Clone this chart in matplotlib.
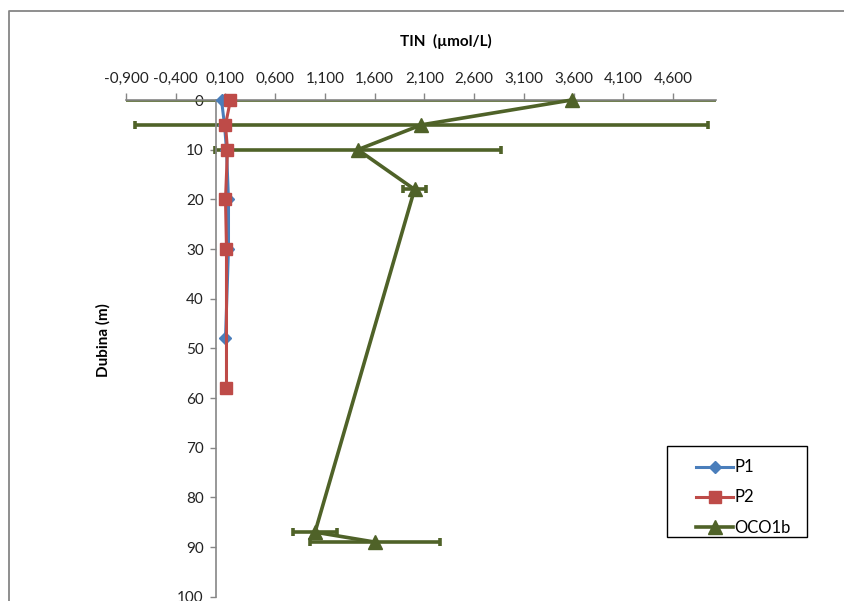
import matplotlib
matplotlib.use("Agg")
import matplotlib.pyplot as plt
from matplotlib.lines import Line2D
from matplotlib.patches import Rectangle
from matplotlib.ticker import FixedLocator, FuncFormatter
import numpy as np

plt.rcParams['font.family'] = ['Lato', 'DejaVu Sans']

# depth (m) and TIN (umol/L) per station
p1_depth = [0, 5, 10, 20, 30, 48]
p1_tin = [0.06, 0.09, 0.11, 0.13, 0.13, 0.10]

p2_depth = [0, 5, 10, 20, 30, 58]
p2_tin = [0.15, 0.10, 0.12, 0.10, 0.11, 0.11]

oco_depth = [0, 5, 10, 18, 87, 89]
oco_tin = [3.58, 2.07, 1.43, 2.00, 1.00, 1.60]
oco_err = [4.80, 2.88, 1.44, 0.115, 0.22, 0.655]

xticks = [-0.9, -0.4, 0.1, 0.6, 1.1, 1.6, 2.1, 2.6, 3.1, 3.6, 4.1, 4.6]
yticks = list(range(0, 101, 10))

blue = '#4A7EBB'
red = '#BE4B48'
green = '#4F6228'
grey = '#868686'

W, H = 844, 601
fig = plt.figure(figsize=(W / 100, H / 100), dpi=100)
ax = fig.add_axes([126 / W, 4.3 / H, (716 - 126) / W, (601 - 100 - 4.3) / H])

# error bars first, clipped to the plot area
ax.errorbar(oco_tin, oco_depth, xerr=oco_err, fmt='none', ecolor=green,
            elinewidth=2.6, capsize=3.2, capthick=2.6, zorder=2)

ax.plot(p1_tin, p1_depth, color=blue, lw=2.2, marker='D', ms=6.5,
        label='P1', zorder=3, clip_on=False)
ax.plot(p2_tin, p2_depth, color=red, lw=2.2, marker='s', ms=9,
        label='P2', zorder=4, clip_on=False)
ax.plot(oco_tin, oco_depth, color=green, lw=2.6, marker='^', ms=10,
        label='OCO1b', zorder=5, clip_on=False)

ax.set_xlim(-0.9, 5.03)
ax.set_ylim(100, 0)

ax.xaxis.set_major_locator(FixedLocator(xticks))
ax.xaxis.set_major_formatter(FuncFormatter(lambda v, p: ('%.3f' % v).replace('.', ',')))
ax.yaxis.set_major_locator(FixedLocator(yticks))

ax.xaxis.tick_top()
ax.spines['left'].set_position(('data', 0))
ax.spines['right'].set_visible(False)
ax.spines['bottom'].set_visible(False)
for s in ('left', 'top'):
    ax.spines[s].set_color(grey)
    ax.spines[s].set_linewidth(1.2)

ax.tick_params(axis='x', which='both', top=True, bottom=False, direction='out',
               length=5, width=1, color=grey, pad=5, labelsize=11, labelcolor='#222222')
ax.tick_params(axis='y', direction='out', length=4.5, width=1, color=grey,
               pad=4, labelsize=11, labelcolor='#222222')
ax.set_facecolor('none')

fig.text(446 / W, 1 - 41 / H, 'TIN  (µmol/L)', ha='center', va='center',
         fontsize=11, fontweight='bold')
fig.text(103 / W, 1 - 340 / H, 'Dubina (m)', ha='center', va='center',
         rotation=90, fontsize=11, fontweight='bold')

# chart area border (only top and left are inside the picture)
fig.add_artist(Line2D([9 / W, 9 / W, 1], [0, 1 - 11 / H, 1 - 11 / H],
                      transform=fig.transFigure, color=grey, lw=1.3))

# legend
fig.add_artist(Rectangle((667 / W, 1 - 537 / H), 140 / W, 91 / H,
                         transform=fig.transFigure, fill=False,
                         edgecolor='black', lw=1))
leg = ax.legend(loc='upper left', bbox_to_anchor=(683 / W, 1 - 446 / H),
                bbox_transform=fig.transFigure, frameon=False, fontsize=12,
                handlelength=2.2, handletextpad=0.1, labelspacing=0.85,
                borderpad=0.3)

fig.savefig('out.png', dpi=100)
